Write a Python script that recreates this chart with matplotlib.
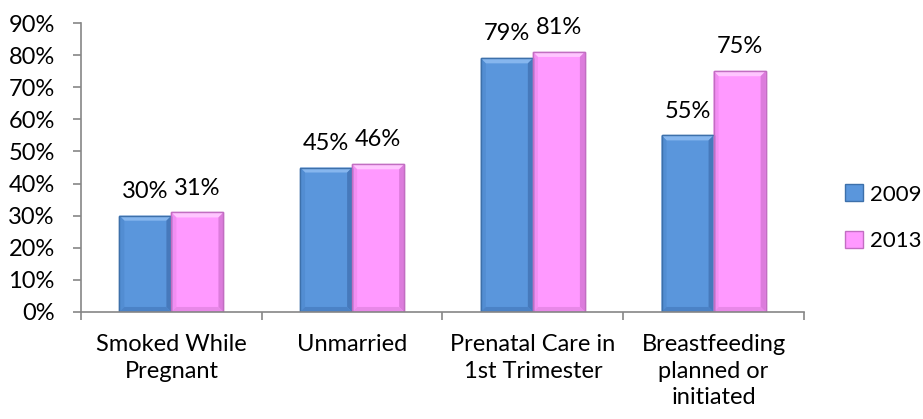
import numpy as np
import matplotlib.pyplot as plt
from matplotlib.patches import Patch, Polygon

# Chart data
categories = ['Smoked While\nPregnant', 'Unmarried', 'Prenatal Care in\n1st Trimester',
              'Breastfeeding\nplanned or\ninitiated']
vals_2009 = [0.30, 0.45, 0.79, 0.55]
vals_2013 = [0.31, 0.46, 0.81, 0.75]
labels_2009 = ['30%', '45%', '79%', '55%']
labels_2013 = ['31%', '46%', '81%', '75%']
years = ['2009', '2013']

plt.rcParams['font.family'] = ['Lato', 'DejaVu Sans']
fs = 17

fig = plt.figure(figsize=(9.23, 4.19), dpi=100)
ax = fig.add_axes([0.0878, 0.2554, 0.7832, 0.6896])

x = np.arange(len(categories))
w = 0.288
blue = '#5a96dc'
pink = '#ff99ff'
# shades for the bevel: top, left, right, bottom, edge
blue_sh = ['#86b6ee', '#528dd2', '#4679bb', '#4b82c6', '#3d70aa']
pink_sh = ['#ffc6ff', '#f28ef2', '#dc7cdc', '#e888e8', '#c26ec2']

ax.set_xlim(-0.5, len(categories) - 0.5)
ax.set_ylim(0, 0.9)

b1 = ax.bar(x - w / 2, vals_2009, w, color=blue, edgecolor=blue_sh[4], linewidth=1, zorder=2)
b2 = ax.bar(x + w / 2, vals_2013, w, color=pink, edgecolor=pink_sh[4], linewidth=1, zorder=2)

# bevel size of ~5 px converted to data units
bev = 5
ax_w = fig.get_figwidth() * fig.dpi * ax.get_position().width
ax_h = fig.get_figheight() * fig.dpi * ax.get_position().height
dx = bev * (len(categories)) / ax_w
dy = bev * 0.9 / ax_h

for bars, sh in ((b1, blue_sh), (b2, pink_sh)):
    for r in bars:
        x0, x1 = r.get_x(), r.get_x() + r.get_width()
        y0, y1 = 0, r.get_height()
        faces = [
            ([(x0, y1), (x1, y1), (x1 - dx, y1 - dy), (x0 + dx, y1 - dy)], sh[0]),
            ([(x0, y0), (x0, y1), (x0 + dx, y1 - dy), (x0 + dx, y0 + dy)], sh[1]),
            ([(x1, y0), (x1, y1), (x1 - dx, y1 - dy), (x1 - dx, y0 + dy)], sh[2]),
            ([(x0, y0), (x1, y0), (x1 - dx, y0 + dy), (x0 + dx, y0 + dy)], sh[3]),
        ]
        for pts, c in faces:
            ax.add_patch(Polygon(pts, closed=True, facecolor=c, edgecolor='none', zorder=2.5))
        ax.add_patch(Polygon([(x0, y0), (x0, y1), (x1, y1), (x1, y0)], closed=True,
                             facecolor='none', edgecolor=sh[4], linewidth=1, zorder=3))

# labels above bars
for bars, labs in ((b1, labels_2009), (b2, labels_2013)):
    for r, t in zip(bars, labs):
        ax.annotate(t, (r.get_x() + r.get_width() / 2, r.get_height()),
                    xytext=(0, 10), textcoords='offset points',
                    ha='center', va='bottom', fontsize=fs)

ax.set_yticks(np.arange(0, 0.91, 0.1))
ax.set_yticklabels([f'{int(round(v * 100))}%' for v in np.arange(0, 0.91, 0.1)], fontsize=fs)

# category labels in the middle, ticks on the boundaries
ax.set_xticks(np.arange(len(categories) + 1) - 0.5)
ax.set_xticklabels([])
ax.set_xticks(x, minor=True)
ax.set_xticklabels(categories, minor=True, fontsize=fs, linespacing=1.32, va='top')
ax.tick_params(axis='x', which='minor', length=0, pad=16)
ax.tick_params(axis='x', which='major', length=6, color='#868686', width=1.2)
ax.tick_params(axis='y', length=6, color='#868686', width=1.2, pad=13)

for s in ['top', 'right']:
    ax.spines[s].set_visible(False)
for s in ['left', 'bottom']:
    ax.spines[s].set_color('#868686')
    ax.spines[s].set_linewidth(1.2)
    ax.spines[s].set_zorder(4)

handles = [Patch(facecolor=blue, edgecolor=blue_sh[4]), Patch(facecolor=pink, edgecolor=pink_sh[4])]
fig.legend(handles, years, loc='center left', bbox_to_anchor=(0.916, 0.48),
           frameon=False, fontsize=16, handlelength=0.8, handleheight=0.8,
           handletextpad=0.3, labelspacing=1.2, borderaxespad=0, borderpad=0)

fig.savefig('out.png', dpi=100)
